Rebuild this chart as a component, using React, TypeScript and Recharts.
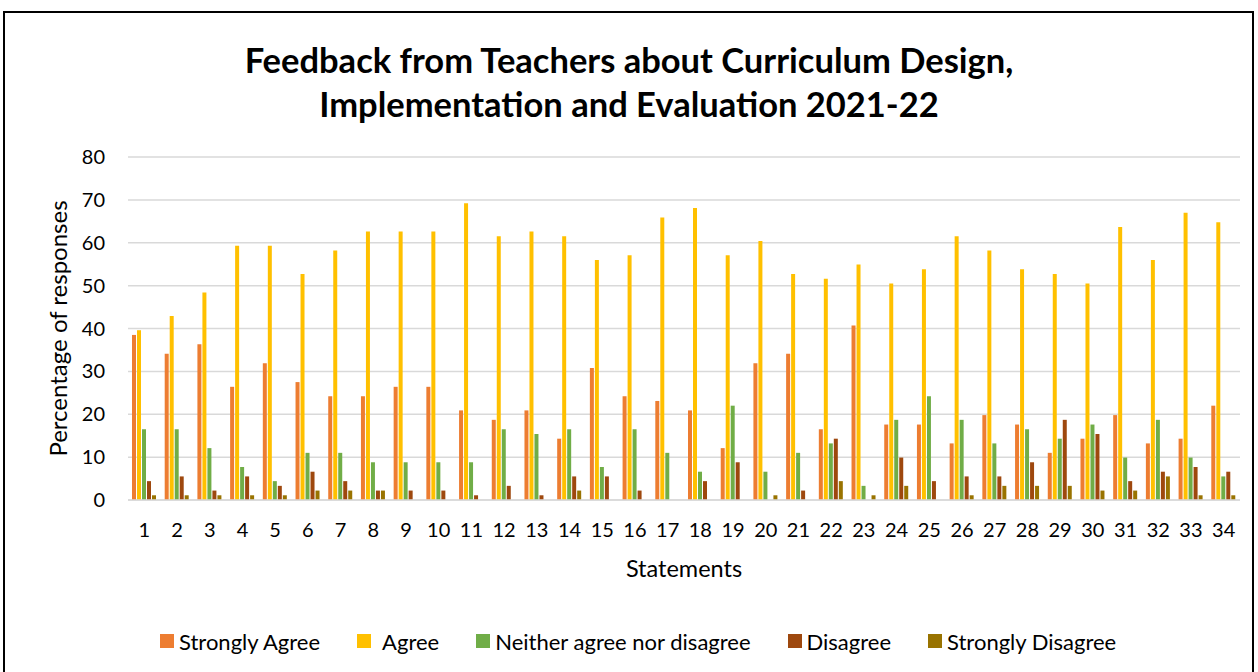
import React from 'react'
import { BarChart, Bar, XAxis, YAxis, CartesianGrid, Legend } from 'recharts'

const statements = ['1', '2', '3', '4', '5', '6', '7', '8', '9', '10', '11', '12', '13', '14', '15', '16', '17', '18', '19', '20', '21', '22', '23', '24', '25', '26', '27', '28', '29', '30', '31', '32', '33', '34']

const stronglyAgree = [38.5, 34.1, 36.3, 26.4, 31.9, 27.5, 24.2, 24.2, 26.4, 26.4, 20.9, 18.7, 20.9, 14.3, 30.8, 24.2, 23.1, 20.9, 12.1, 31.9, 34.1, 16.5, 40.7, 17.6, 17.6, 13.2, 19.8, 17.6, 11.0, 14.3, 19.8, 13.2, 14.3, 22.0]
const agree = [39.6, 42.9, 48.4, 59.3, 59.3, 52.7, 58.2, 62.6, 62.6, 62.6, 69.2, 61.5, 62.6, 61.5, 56.0, 57.1, 65.9, 68.1, 57.1, 60.4, 52.7, 51.6, 54.9, 50.5, 53.8, 61.5, 58.2, 53.8, 52.7, 50.5, 63.7, 56.0, 67.0, 64.8]
const neither = [16.5, 16.5, 12.1, 7.7, 4.4, 11.0, 11.0, 8.8, 8.8, 8.8, 8.8, 16.5, 15.4, 16.5, 7.7, 16.5, 11.0, 6.6, 22.0, 6.6, 11.0, 13.2, 3.3, 18.7, 24.2, 18.7, 13.2, 16.5, 14.3, 17.6, 9.9, 18.7, 9.9, 5.5]
const disagree = [4.4, 5.5, 2.2, 5.5, 3.3, 6.6, 4.4, 2.2, 2.2, 2.2, 1.1, 3.3, 1.1, 5.5, 5.5, 2.2, 0, 4.4, 8.8, 0, 2.2, 14.3, 0, 9.9, 4.4, 5.5, 5.5, 8.8, 18.7, 15.4, 4.4, 6.6, 7.7, 6.6]
const stronglyDisagree = [1.1, 1.1, 1.1, 1.1, 1.1, 2.2, 2.2, 2.2, 0, 0, 0, 0, 0, 2.2, 0, 0, 0, 0, 0, 1.1, 0, 4.4, 1.1, 3.3, 0, 1.1, 3.3, 3.3, 3.3, 2.2, 2.2, 5.5, 1.1, 1.1]

const yTicks = [0, 10, 20, 30, 40, 50, 60, 70, 80]

const series = [
  { key: 'sa', name: 'Strongly Agree', color: '#ED7D31', values: stronglyAgree },
  { key: 'a', name: 'Agree', color: '#FFC000', values: agree },
  { key: 'n', name: 'Neither agree nor disagree', color: '#70AD47', values: neither },
  { key: 'd', name: 'Disagree', color: '#9E480E', values: disagree },
  { key: 'sd', name: 'Strongly Disagree', color: '#997300', values: stronglyDisagree },
]

const data = statements.map((s, i) => {
  const row: any = { statement: s }
  series.forEach((se) => { row[se.key] = se.values[i] })
  return row
})

const FONT = 'Lato, "Open Sans", sans-serif'

// legend keeps the series order (recharts would sort the payload)
const LegendBox = () => (
  <div style={{ display: 'flex', alignItems: 'center', height: 30, paddingLeft: 160, fontFamily: FONT, fontSize: 22, color: '#000' }}>
    {series.map((se) => (
      <div key={se.key} style={{ display: 'flex', alignItems: 'center', marginRight: 37 }}>
        <span style={{ width: 14, height: 14, background: se.color, display: 'inline-block', marginRight: se.key === 'a' ? 11 : 5 }} />
        <span>{se.name}</span>
      </div>
    ))}
  </div>
)

export default function App() {
  return (
    <div style={{ position: 'absolute', left: 0, top: 0, width: 1258, height: 672, overflow: 'hidden', background: '#fff' }}>
      <div style={{ position: 'absolute', left: 3, top: 11, width: 1251, height: 700, border: '2px solid #000', boxSizing: 'border-box' }} />
      <div style={{ position: 'absolute', left: 0, top: 38, width: 1258, textAlign: 'center', fontFamily: FONT, fontWeight: 700, fontSize: 34.5, lineHeight: '44px', color: '#000' }}>
        <div>Feedback from Teachers about Curriculum Design,</div>
        <div>Implementation and Evaluation 2021-22</div>
      </div>
      <div style={{ position: 'absolute', left: 0, top: 0 }}>
        <BarChart width={1258} height={672} data={data} margin={{ top: 157, right: 18, bottom: 62, left: 40 }} barCategoryGap={4} barGap={1}>
          <CartesianGrid vertical={false} stroke="#d9d9d9" strokeWidth={1.5} />
          <XAxis
            dataKey="statement"
            height={80}
            tickLine={false}
            tickSize={6}
            tickMargin={17}
            axisLine={{ stroke: '#d9d9d9', strokeWidth: 1.5 }}
            interval={0}
            tick={{ fontSize: 20, fill: '#000', fontFamily: FONT }}
            label={{ value: 'Statements', position: 'insideBottom', offset: 3, style: { fontSize: 23.5, fill: '#000', fontFamily: FONT } }}
          />
          <YAxis
            width={88}
            domain={[0, 80]}
            ticks={yTicks}
            axisLine={false}
            tickLine={false}
            tickSize={6}
            tickMargin={17}
            tick={{ fontSize: 20, fill: '#000', fontFamily: FONT }}
            label={{ value: 'Percentage of responses', angle: -90, position: 'insideLeft', offset: 18, style: { textAnchor: 'middle', fontSize: 24, fill: '#000', fontFamily: FONT } }}
          />
          <Legend verticalAlign="bottom" content={<LegendBox />} wrapperStyle={{ left: 0, width: 1258, bottom: 16 }} />
          {series.map((se) => (
            <Bar key={se.key} dataKey={se.key} name={se.name} fill={se.color} isAnimationActive={false} />
          ))}
        </BarChart>
      </div>
    </div>
  )
}
